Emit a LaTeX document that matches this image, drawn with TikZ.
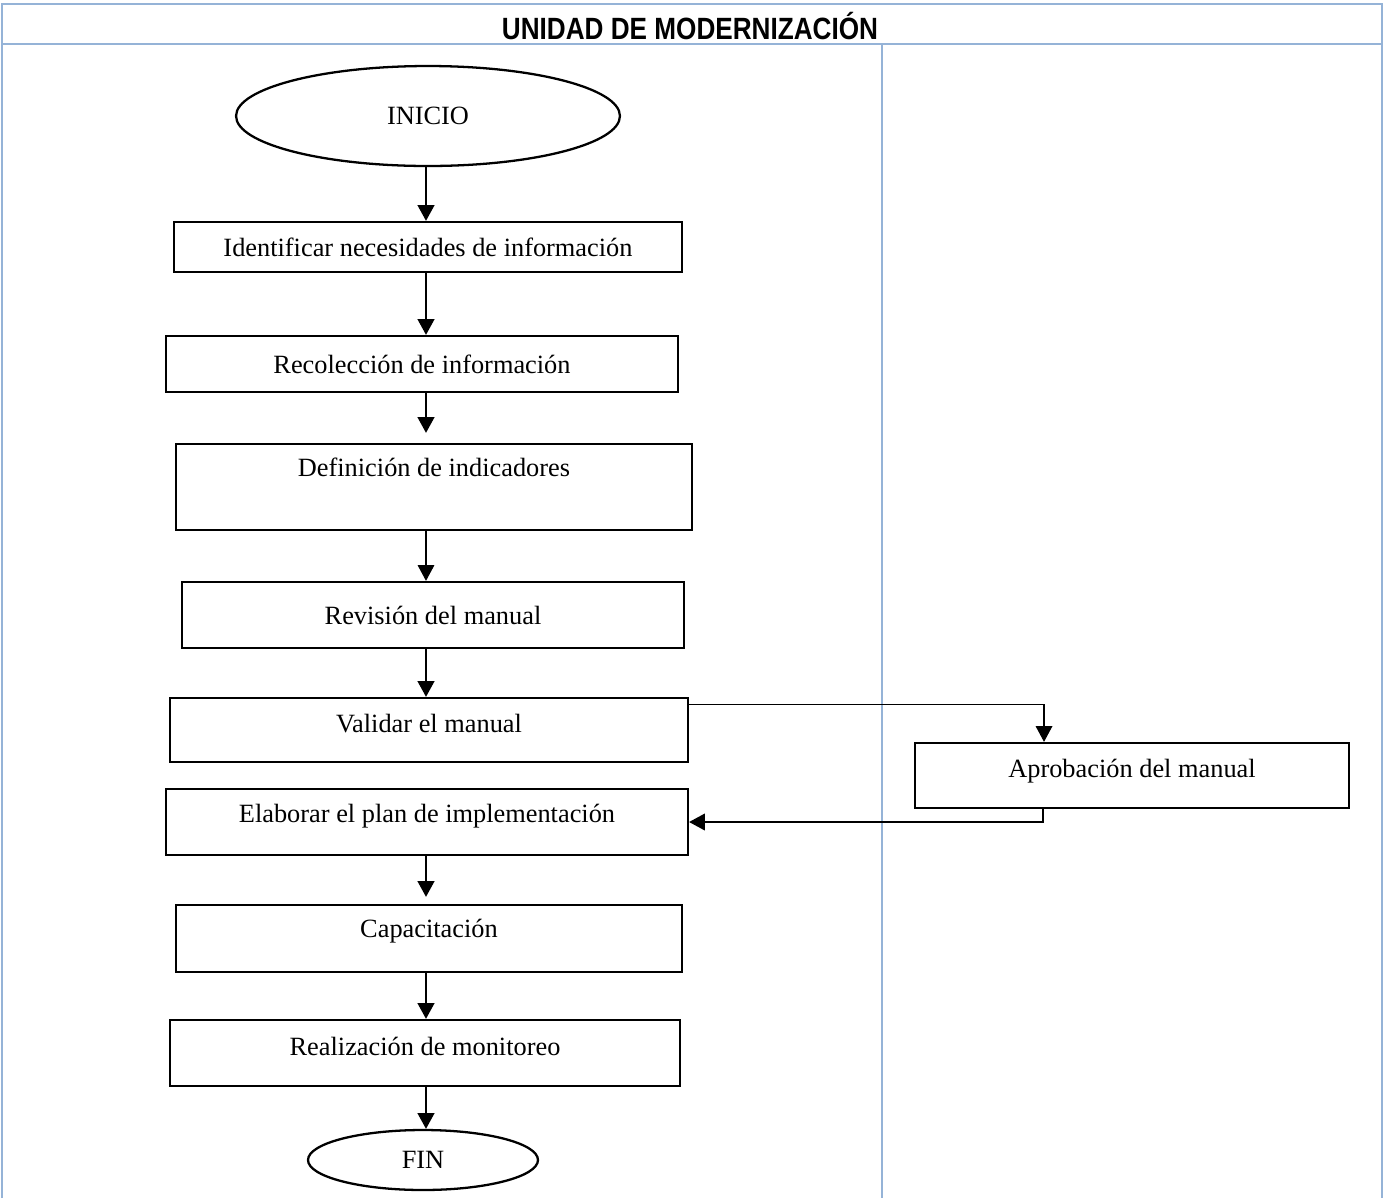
\documentclass[tikz,border=0pt]{standalone}
\usepackage{fontspec}
\setmainfont{Liberation Serif}
\newfontfamily\headfont{Liberation Sans}[FakeStretch=0.85]
\usepackage{xcolor}
\usepackage{tikz}
\usetikzlibrary{arrows.meta,shapes.geometric}
\definecolor{lineblue}{RGB}{149,179,215}

\begin{document}
\begin{tikzpicture}[x=0.02cm,y=-0.02cm,
font=\fontsize{15}{18}\selectfont,
proc/.style={draw,rectangle,line width=1.3pt,inner sep=0pt},
term/.style={draw,ellipse,line width=1.3pt,inner sep=0pt},
lift/.style={text height=9pt,text depth=#1},
flow/.style={-{Triangle[width=9.5pt,length=9pt]},line width=1.3pt},
grid/.style={draw=lineblue,line width=1.1pt}]
\useasboundingbox (0,0) rectangle (1384,1198);

% table lines
\draw[grid] (2,1198) -- (2,4) -- (1382,4) -- (1382,1198)
(2,44) -- (1382,44)
(882,44) -- (882,1198);
\node[font=\headfont\bfseries\fontsize{17.5}{20}\selectfont] (title) at (690,26) {UNIDAD DE MODERNIZACIÓN};

% steps
\node[term,minimum width=7.68cm,minimum height=2cm] (ini) at (428,116) {INICIO};
\node[proc,minimum width=10.16cm,minimum height=1cm] (ident) at (428,247) {Identificar necesidades de información};
\node[proc,minimum width=10.24cm,minimum height=1.12cm] (recol) at (422,364) {Recolección de información};
\node[proc,lift=20.4pt,minimum width=10.32cm,minimum height=1.72cm] (indic) at (434,487) {Definición de indicadores};
\node[proc,minimum width=10.04cm,minimum height=1.32cm] (revis) at (433,615) {Revisión del manual};
\node[proc,lift=6.6pt,minimum width=10.36cm,minimum height=1.28cm] (valid) at (429,730) {Validar el manual};
\node[proc,lift=6.2pt,minimum width=8.68cm,minimum height=1.3cm] (aprob) at (1132,775.5) {Aprobación del manual};
\node[proc,lift=9pt,minimum width=10.44cm,minimum height=1.32cm] (elab) at (427,822) {Elaborar el plan de implementación};
\node[proc,lift=9.6pt,minimum width=10.12cm,minimum height=1.34cm] (capac) at (429,938.5) {Capacitación};
\node[proc,lift=6.6pt,minimum width=10.2cm,minimum height=1.32cm] (monit) at (425,1053) {Realización de monitoreo};
\node[term,minimum width=4.6cm,minimum height=1.2cm] (fin) at (423,1160) {FIN};

% arrows
\coordinate (spine) at (426,0);
\draw[flow] (ini.south -| spine) -- (ident.north -| spine);
\draw[flow] (ident.south -| spine) -- (recol.north -| spine);
\draw[flow,shorten >=0.2cm] (recol.south -| spine) -- (indic.north -| spine);
\draw[flow,line width=0.6pt] (indic.south -| spine) -- (revis.north -| spine);
\draw[flow] (revis.south -| spine) -- (valid.north -| spine);
\draw[flow,line width=0.6pt] ([yshift=-0.16cm]valid.north east) -| ([xshift=-1.76cm]aprob.north);
\draw[flow,line width=0.9pt] ([xshift=-1.78cm]aprob.south) |- (elab.east);
\draw[flow,shorten >=0.14cm] (elab.south -| spine) -- (capac.north -| spine);
\draw[flow] (capac.south -| spine) -- (monit.north -| spine);
\draw[flow] (monit.south -| spine) -- (fin.north -| spine);
\end{tikzpicture}
\end{document}
